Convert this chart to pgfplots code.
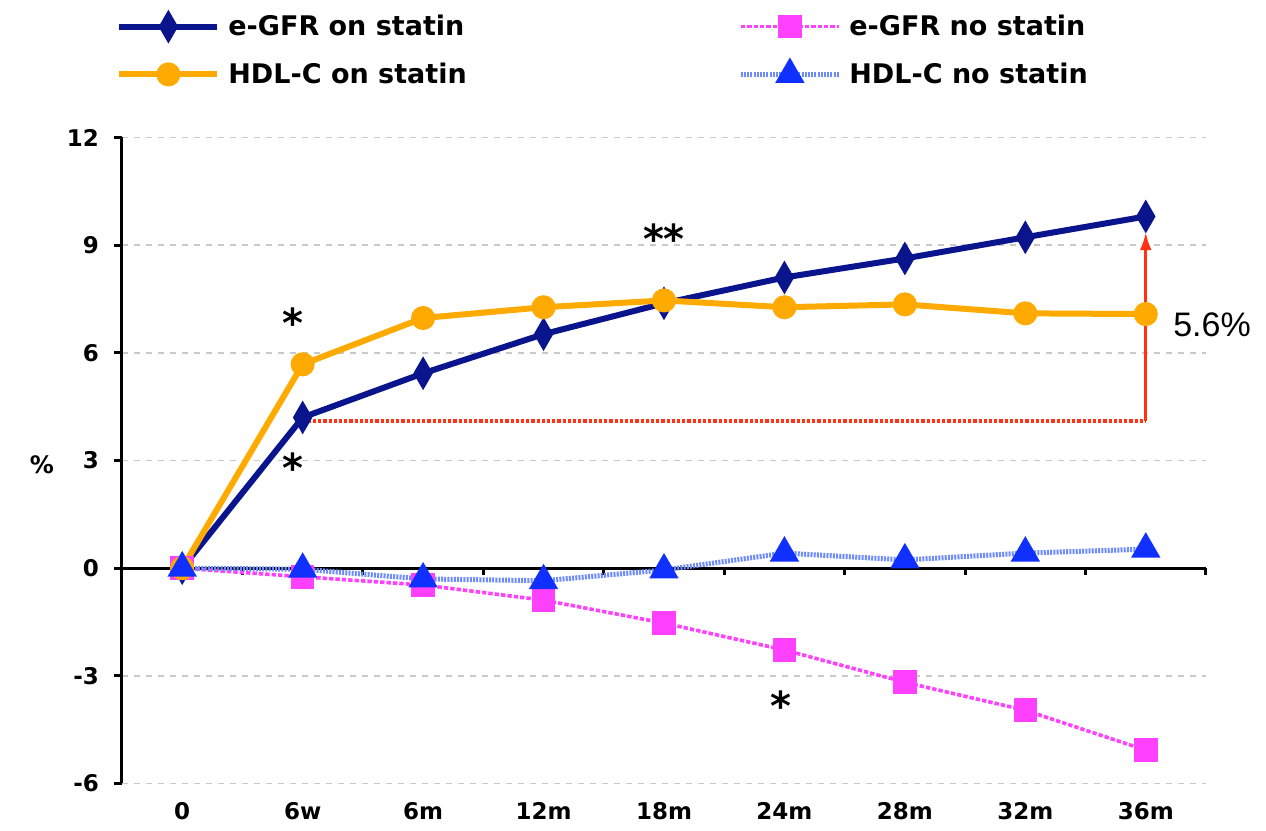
\documentclass[border=0pt]{standalone}
\usepackage{pgfplots}
\pgfplotsset{compat=1.18}
\usetikzlibrary{arrows.meta}
\usepackage{fontspec}
\setmainfont{DejaVu Sans}
\newfontfamily\arialfont{Liberation Sans}
\definecolor{navyc}{RGB}{10,20,140}
\definecolor{orangec}{RGB}{255,170,0}
\definecolor{magc}{RGB}{255,64,255}
\definecolor{bluem}{RGB}{16,48,255}
\definecolor{bluel}{RGB}{110,140,255}
\definecolor{redc}{RGB}{255,50,20}
\definecolor{gridc}{RGB}{200,200,200}
\begin{document}
\begin{tikzpicture}
\begin{axis}[
  at={(0,0)}, anchor=south west,
  scale only axis, width=542pt, height=323pt,
  xmin=-0.5, xmax=8.5, ymin=-6, ymax=12,
  axis lines*=left,
  x axis line style={draw=none},
  y axis line style={line width=1.5pt},
  xtick={0,1,2,3,4,5,6,7,8},
  xticklabels={0,6w,6m,12m,18m,24m,28m,32m,36m},
  xtick style={draw=none},
  ytick={-6,-3,0,3,6,9,12},
  ytick style={line width=1.5pt, black},
  tick align=outside,
  major tick length=4pt,
  ymajorgrids,
  grid style={gridc, dashed, line width=0.8pt},
  /pgf/number format/assume math mode=true,
  ticklabel style={font=\fontsize{11.5}{13}\selectfont\bfseries},
  yticklabel style={xshift=-4pt},
  xticklabel style={yshift=-2pt},
  clip=false,
  legend columns=2,
  legend style={at={(axis description cs:0,1)}, anchor=north west, xshift=-6pt, yshift=63.5pt,
    draw=none, fill=none, font=\fontsize{13.5}{15}\selectfont\bfseries,
    nodes={inner sep=0pt, anchor=west},
    /tikz/every odd column/.append style={column sep=4pt},
    row sep=12pt},
  legend cell align=left,
  legend image code/.code={\draw[mark repeat=2,mark phase=2,#1] plot coordinates {(0pt,0pt)(24.5pt,0pt)(49pt,0pt)};},
]
\addplot[black, line width=1.5pt, forget plot] coordinates {(-0.5,0) (8.5,0)};
\addplot[black, line width=1.5pt, ycomb, forget plot, mark=none] coordinates {(0.5,-0.2) (1.5,-0.2) (2.5,-0.2) (3.5,-0.2) (4.5,-0.2) (5.5,-0.2) (6.5,-0.2) (7.5,-0.2) (8.5,-0.2)};
\addplot[redc, line width=1.6pt, densely dotted, forget plot] coordinates {(1,4.1) (8,4.1)};
\addplot[redc, line width=1.4pt, -{Latex[length=9pt,width=6pt]}, forget plot] coordinates {(8,4.1) (8,9.36)};
% e-GFR on statin
\addplot[navyc, line width=3pt, mark=diamond*, mark size=4.2pt, mark options={solid, yscale=1.3}] coordinates {
(0,0) (1,4.2) (2,5.43) (3,6.52) (4,7.38) (5,8.1) (6,8.63) (7,9.22) (8,9.8)};
\addlegendentry{\makebox[255pt][l]{e-GFR on statin}}
% e-GFR no statin
\addplot[magc, line width=1.8pt, dash pattern=on 2.2pt off 1pt, mark=square*, mark size=5pt, mark options={solid}] coordinates {
(0,0) (1,-0.24) (2,-0.47) (3,-0.89) (4,-1.53) (5,-2.28) (6,-3.18) (7,-3.96) (8,-5.07)};
\addlegendentry{e-GFR no statin}
% HDL-C on statin
\addplot[orangec, line width=3pt, mark=*, mark size=4.5pt, mark options={solid}] coordinates {
(0,0) (1,5.68) (2,6.97) (3,7.27) (4,7.46) (5,7.27) (6,7.35) (7,7.1) (8,7.08)};
\addlegendentry{\makebox[255pt][l]{HDL-C on statin}}
% HDL-C no statin
\addplot[bluel, line width=2.5pt, dash pattern=on 1pt off 0.6pt, mark=triangle*, mark size=6pt, mark options={solid, bluem, fill=bluem}] coordinates {
(0,0) (1,-0.03) (2,-0.3) (3,-0.35) (4,-0.05) (5,0.42) (6,0.23) (7,0.42) (8,0.53)};
\addlegendentry{HDL-C no statin}
\node[font=\fontsize{20}{22}\selectfont\bfseries] at (axis cs:0.92,6.85) {*};
\node[font=\fontsize{20}{22}\selectfont\bfseries] at (axis cs:0.92,2.8) {*};
\node[font=\fontsize{20}{22}\selectfont\bfseries] at (axis cs:4.0,9.18) {**};
\node[font=\fontsize{20}{22}\selectfont\bfseries] at (axis cs:4.97,-3.83) {*};
\node[font=\arialfont\fontsize{17}{19}\selectfont, anchor=west] at (axis cs:8.17,6.77) {5.6\%};
\node[font=\fontsize{12}{14}\selectfont\bfseries] at ([xshift=-40pt]axis cs:-0.5,2.87) {\%};
\end{axis}
\pgfresetboundingbox
\path (-61pt,-23.75pt) rectangle (572pt,391.75pt);
\end{tikzpicture}
\end{document}
